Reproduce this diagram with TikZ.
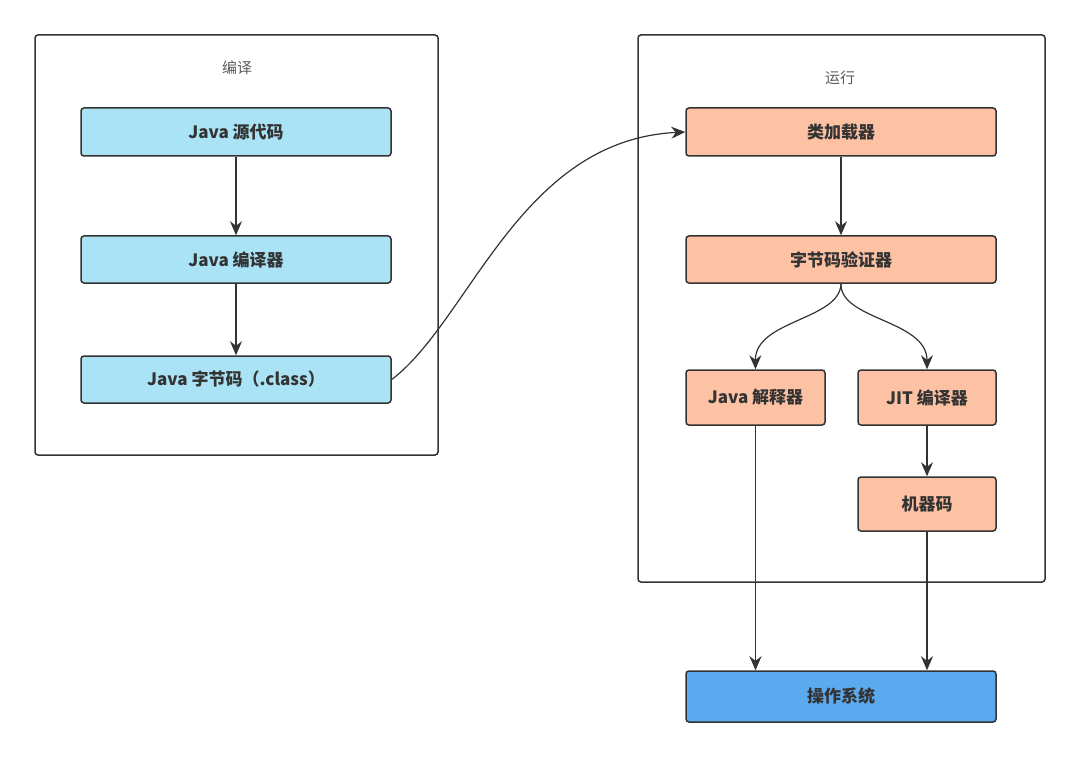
\documentclass[tikz,border=0pt]{standalone}
\usepackage{fontspec}
\setmainfont{Noto Sans CJK SC}
\usetikzlibrary{arrows.meta}
\definecolor{bl}{HTML}{A9E3F5}
\definecolor{or}{HTML}{FDC1A4}
\definecolor{os}{HTML}{5BA9EE}
\definecolor{ln}{HTML}{333333}
\begin{document}
\begin{tikzpicture}[x=1pt,y=-1pt,
 cont/.style={draw=ln,line width=1.5pt,rounded corners=3pt},
 box/.style={draw=ln,line width=1.5pt,rounded corners=3pt,font=\fontsize{17}{19}\selectfont\bfseries,text=ln},
 arr/.style={draw=ln,line width=1.2pt,-{Stealth[length=14pt,width=12pt]}}]
\useasboundingbox[fill=white](0,0) rectangle (1080,757);
\draw[cont] (35,35) rectangle (438,455);
\node[text=ln!80,font=\fontsize{15}{17}\selectfont] (t1) at (237,68) {编译};
\draw[cont] (638,35) rectangle (1045,582);
\node[text=ln!80,font=\fontsize{15}{17}\selectfont] (t2) at (840,78) {运行};
\tikzset{R/.style args={#1/#2/#3/#4}{box,minimum width=#3,minimum height=#4,at={(#1,#2)}}}
\node[R=236/132/310pt/48pt,fill=bl] (a) {Java 源代码};
\node[R=236/259.5/310pt/47pt,fill=bl] (b) {Java 编译器};
\node[R=236/379.5/310pt/47pt,fill=bl] (c) {Java 字节码（.class）};
\node[R=841/132/310pt/48pt,fill=or] (d) {类加载器};
\node[R=841/259.5/310pt/47pt,fill=or] (e) {字节码验证器};
\node[R=755.5/397.5/139pt/55pt,fill=or] (f) {Java 解释器};
\node[R=927/397.5/138pt/55pt,fill=or] (g) {JIT 编译器};
\node[R=927/504/138pt/54pt,fill=or] (h) {机器码};
\node[R=841/696.5/310pt/51pt,fill=os] (i) {操作系统};
\draw[arr] (a) -- (b);
\draw[arr] (b) -- (c);
\draw[arr] (d) -- (e);
\draw[arr] (c.east) .. controls (470,320) and (520,140) .. (d.west);
\draw[arr] (e.south) .. controls (840,320) and (755,320) .. (f.north);
\draw[arr] (e.south) .. controls (840,320) and (927,320) .. (g.north);
\draw[arr] (g) -- (h);
\draw[arr] (f.south) -- (f.south|-i.north);
\draw[arr] (h.south) -- (h.south|-i.north);
\end{tikzpicture}
\end{document}
